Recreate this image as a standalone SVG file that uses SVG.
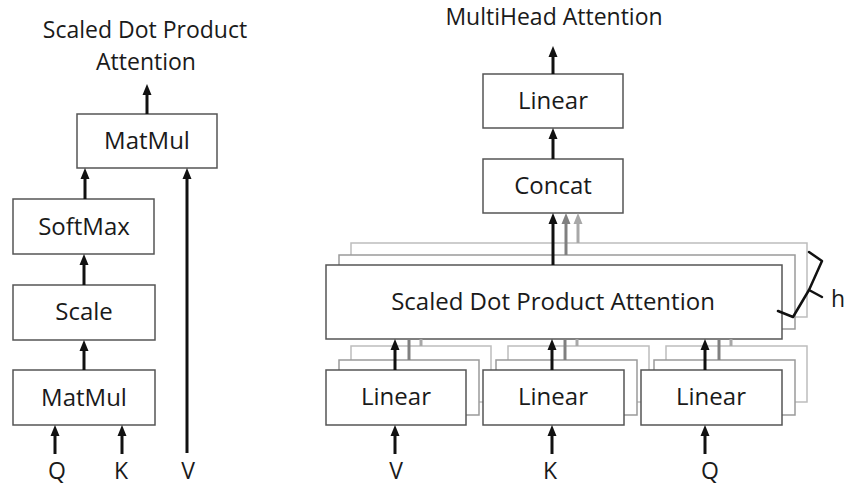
<svg xmlns="http://www.w3.org/2000/svg" width="851" height="487" viewBox="0 0 851 487">
  <style>
    text { font-family: "Open Sans", "Noto Sans", sans-serif; font-size: 23px; fill: #1a1a1a; text-anchor: middle; }
    .lbl { font-size: 24px; }
    .box { fill: #ffffff; stroke: #555555; stroke-width: 1.5; }
    .box2 { fill: #ffffff; stroke: #9a9a9a; stroke-width: 1.5; }
    .box3 { fill: #ffffff; stroke: #bdbdbd; stroke-width: 1.5; }
    .arr { stroke: #111111; stroke-width: 3; fill: none; }
    .arr-g { stroke: #808080; stroke-width: 3; fill: none; }
    .arr-l { stroke: #a8a8a8; stroke-width: 3; fill: none; }
    .brace { stroke: #111111; stroke-width: 2.5; fill: none; stroke-linejoin: round; stroke-linecap: round; }
  </style>
  <defs>
    <!-- arrowheads point along +x; the line ends 8px short of the tip -->
    <marker id="head" markerUnits="userSpaceOnUse" markerWidth="11" markerHeight="10" viewBox="0 0 11 10" refX="3" refY="5" orient="auto">
      <path d="M0,0.5 L11,5 L0,9.5 Z" fill="#111111"/>
    </marker>
    <marker id="head-g" markerUnits="userSpaceOnUse" markerWidth="11" markerHeight="10" viewBox="0 0 11 10" refX="3" refY="5" orient="auto">
      <path d="M0,0.5 L11,5 L0,9.5 Z" fill="#808080"/>
    </marker>
    <marker id="head-l" markerUnits="userSpaceOnUse" markerWidth="11" markerHeight="10" viewBox="0 0 11 10" refX="3" refY="5" orient="auto">
      <path d="M0,0.5 L11,5 L0,9.5 Z" fill="#a8a8a8"/>
    </marker>
  </defs>

  <!-- Left: scaled dot product attention -->
  <g id="title-sdpa">
    <text x="145" y="38">Scaled Dot Product</text>
    <text x="146" y="70">Attention</text>
  </g>
  <g id="matmul-top">
    <rect class="box" x="77" y="114" width="140" height="54"/>
    <text class="lbl" x="147" y="149">MatMul</text>
  </g>
  <g id="softmax">
    <rect class="box" x="13" y="199" width="141" height="55"/>
    <text class="lbl" x="84" y="235">SoftMax</text>
  </g>
  <g id="scale">
    <rect class="box" x="13" y="285" width="142" height="55"/>
    <text class="lbl" x="84" y="320">Scale</text>
  </g>
  <g id="matmul-bottom">
    <rect class="box" x="13" y="370" width="142" height="55"/>
    <text class="lbl" x="84" y="406">MatMul</text>
  </g>
  <g id="inputs-left">
    <text x="57" y="479">Q</text>
    <text x="121" y="479">K</text>
    <text x="188" y="479">V</text>
  </g>

  <!-- Right: multi-head attention -->
  <g id="title-mha">
    <text x="554" y="25">MultiHead Attention</text>
  </g>
  <g id="linear-out">
    <rect class="box" x="483" y="74" width="140" height="54"/>
    <text class="lbl" x="553" y="109">Linear</text>
  </g>
  <g id="concat">
    <rect class="box" x="483" y="159" width="140" height="54"/>
    <text class="lbl" x="553" y="194">Concat</text>
  </g>
  <g id="sdpa-heads">
    <rect class="box3" x="351" y="243" width="456" height="74"/>
    <rect class="box2" x="339" y="255" width="456" height="74"/>
    <rect class="box" x="326" y="265" width="456" height="74"/>
    <text class="lbl" x="553" y="310">Scaled Dot Product Attention</text>
  </g>
  <g id="linear-v">
    <rect class="box3" x="351" y="346" width="140" height="56"/>
    <rect class="box2" x="339" y="360" width="140" height="55"/>
    <rect class="box" x="326" y="370" width="140" height="55"/>
    <text class="lbl" x="396" y="405">Linear</text>
  </g>
  <g id="linear-k">
    <rect class="box3" x="508" y="346" width="141" height="56"/>
    <rect class="box2" x="496" y="360" width="141" height="55"/>
    <rect class="box" x="483" y="370" width="141" height="55"/>
    <text class="lbl" x="553" y="405">Linear</text>
  </g>
  <g id="linear-q">
    <rect class="box3" x="666" y="346" width="141" height="56"/>
    <rect class="box2" x="654" y="360" width="141" height="55"/>
    <rect class="box" x="641" y="370" width="141" height="55"/>
    <text class="lbl" x="711" y="405">Linear</text>
  </g>
  <g id="heads-label">
    <polyline class="brace" points="809,252 822,261 809,290 793,317 778,311"/>
    <line class="brace" x1="809" y1="290" x2="822" y2="297"/>
    <text x="838" y="307">h</text>
  </g>
  <g id="inputs-right">
    <text x="396" y="479">V</text>
    <text x="550" y="479">K</text>
    <text x="710" y="479">Q</text>
  </g>

  <!-- Connectors: y2 sits 8px below the arrow tip -->
  <g id="connectors">
    <!-- left column -->
    <line class="arr" x1="147" y1="114" x2="147" y2="92" marker-end="url(#head)"/>
    <line class="arr" x1="85" y1="199" x2="85" y2="176" marker-end="url(#head)"/>
    <line class="arr" x1="187" y1="453" x2="187" y2="176" marker-end="url(#head)"/>
    <line class="arr" x1="84" y1="285" x2="84" y2="262" marker-end="url(#head)"/>
    <line class="arr" x1="84" y1="370" x2="84" y2="348" marker-end="url(#head)"/>
    <line class="arr" x1="55" y1="454" x2="55" y2="433" marker-end="url(#head)"/>
    <line class="arr" x1="122" y1="454" x2="122" y2="433" marker-end="url(#head)"/>
    <!-- right column, top -->
    <line class="arr" x1="553" y1="74" x2="553" y2="54" marker-end="url(#head)"/>
    <line class="arr" x1="553" y1="159" x2="553" y2="136" marker-end="url(#head)"/>
    <line class="arr" x1="553" y1="265" x2="553" y2="221" marker-end="url(#head)"/>
    <line class="arr-g" x1="566" y1="255" x2="566" y2="221" marker-end="url(#head-g)"/>
    <line class="arr-l" x1="578" y1="243" x2="578" y2="221" marker-end="url(#head-l)"/>
    <!-- linear projections into attention heads -->
    <line class="arr" x1="395" y1="370" x2="395" y2="347" marker-end="url(#head)"/>
    <line class="arr-g" x1="409" y1="360" x2="409" y2="339"/>
    <line class="arr-l" x1="421" y1="346" x2="421" y2="339"/>
    <line class="arr" x1="552" y1="370" x2="552" y2="347" marker-end="url(#head)"/>
    <line class="arr-g" x1="565" y1="360" x2="565" y2="339"/>
    <line class="arr-l" x1="577" y1="346" x2="577" y2="339"/>
    <line class="arr" x1="705" y1="370" x2="705" y2="347" marker-end="url(#head)"/>
    <line class="arr-g" x1="719" y1="360" x2="719" y2="339"/>
    <line class="arr-l" x1="731" y1="346" x2="731" y2="339"/>
    <!-- inputs -->
    <line class="arr" x1="395" y1="454" x2="395" y2="433" marker-end="url(#head)"/>
    <line class="arr" x1="552" y1="454" x2="552" y2="433" marker-end="url(#head)"/>
    <line class="arr" x1="705" y1="454" x2="705" y2="433" marker-end="url(#head)"/>
  </g>
</svg>
